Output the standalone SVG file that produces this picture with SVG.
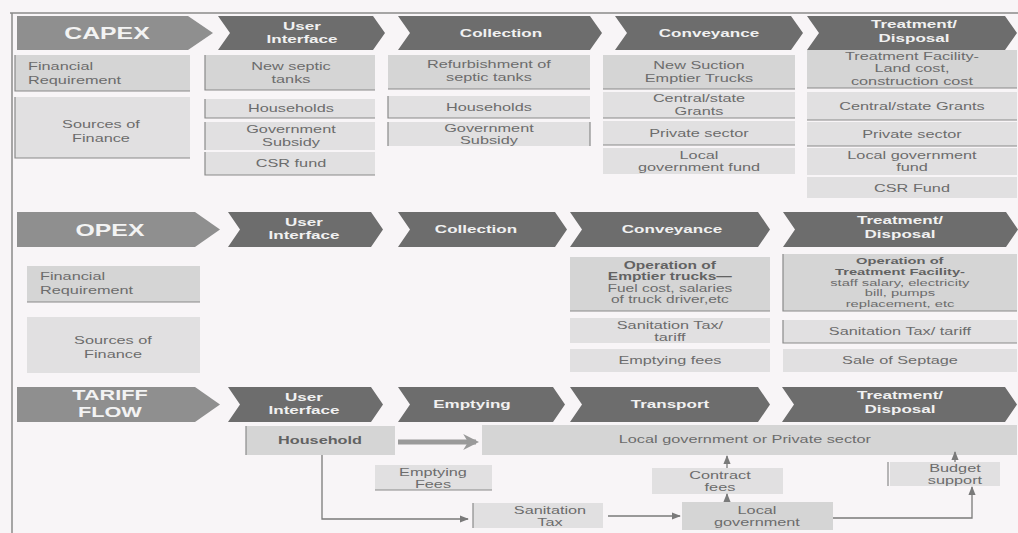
<svg xmlns="http://www.w3.org/2000/svg" width="1018" height="533" viewBox="0 0 1018 533">
<defs>
<style>
.t{font-family:"Liberation Sans",Arial,sans-serif;text-anchor:middle;transform-box:fill-box;transform-origin:center;transform:scaleX(1.55)}
.lf{text-anchor:start;transform-origin:left center}
.bx{font-size:10.5px;fill:#6c6c6c}
.sm{font-size:10px}
.xs{font-size:9.5px}
.bb{font-weight:700;fill:#626262}
.hd{font-size:11px;font-weight:700;fill:#f1f1f1}
.tt{font-size:16px;font-weight:700;fill:#f3f3f3}
.tm{font-size:14px;font-weight:700;fill:#f3f3f3}
.ch{fill:#6d6d6d}
.ti{fill:#8f8f8f}
.fr{fill:#d5d5d5}
.sb{fill:#e1e0e1}
.ln{fill:none;stroke:#8a8a8a;stroke-width:1.2}
.cn{fill:none;stroke:#7a7a7a;stroke-width:1.3}
</style>
<marker id="ah" viewBox="0 0 10 10" refX="9" refY="5" markerWidth="7" markerHeight="7" orient="auto"><path d="M0,1 L10,5 L0,9 z" fill="#7a7a7a"/></marker>
<marker id="ahb" viewBox="0 0 10 10" refX="8" refY="5" markerWidth="3.2" markerHeight="3.2" orient="auto"><path d="M0,0 L10,5 L0,10 L3,5 z" fill="#9a9a9a"/></marker>
</defs>
<rect width="1018" height="533" fill="#f8f5f7"/>
<path d="M10,13 H1018 M12,13 V533" fill="none" stroke="#8a8a8a" stroke-width="1.5"/>

<!-- CAPEX row -->
<g id="capex"><polygon class="ti" points="17,16 188,16 213,33 188,50 17,50"/><text class="t tt" x="107" y="39">CAPEX</text></g>
<g id="capex-ui"><polygon class="ch" points="218,16 373,16 385,33 373,50 218,50 230,33"/><text class="t hd" x="302" y="30">User</text><text class="t hd" x="302" y="43">Interface</text></g>
<g id="capex-col"><polygon class="ch" points="398,16 590,16 602,33 590,50 398,50 410,33"/><text class="t hd" x="501" y="37">Collection</text></g>
<g id="capex-conv"><polygon class="ch" points="615,16 791,16 803,33 791,50 615,50 627,33"/><text class="t hd" x="709" y="37">Conveyance</text></g>
<g id="capex-treat"><polygon class="ch" points="807,16 1005,16 1017,33 1005,50 807,50 819,33"/><text class="t hd" x="914" y="28">Treatment/</text><text class="t hd" x="914" y="42">Disposal</text></g>

<g id="capex-finreq"><rect class="fr" x="15" y="55" width="175" height="36"/><path class="ln" d="M15,55 V91 H190"/><text class="t bx lf" x="28" y="70">Financial</text><text class="t bx lf" x="28" y="84">Requirement</text></g>
<g id="capex-sources"><rect class="sb" x="15" y="97" width="175" height="61"/><path class="ln" d="M15,97 V158 H190"/><text class="t bx" x="101" y="128">Sources of</text><text class="t bx" x="101" y="142">Finance</text></g>

<g id="c-ui-1"><rect class="fr" x="205" y="55" width="170" height="35"/><path class="ln" d="M205,55 V90 H375"/><text class="t bx" x="291" y="70">New septic</text><text class="t bx" x="291" y="83">tanks</text></g>
<g id="c-ui-2"><rect class="sb" x="205" y="99" width="170" height="19"/><path class="ln" d="M205,99 V118 H375"/><text class="t bx" x="291" y="112">Households</text></g>
<g id="c-ui-3"><rect class="sb" x="205" y="122" width="170" height="28"/><path class="ln" d="M205,122 V150"/><text class="t bx" x="291" y="133">Government</text><text class="t bx" x="291" y="146">Subsidy</text></g>
<g id="c-ui-4"><rect class="sb" x="205" y="152" width="170" height="23"/><path class="ln" d="M205,152 V175 H375"/><text class="t bx" x="291" y="167">CSR fund</text></g>

<g id="c-col-1"><rect class="fr" x="388" y="55" width="202" height="34"/><path class="ln" d="M388,89 H590"/><text class="t bx" x="489" y="68">Refurbishment of</text><text class="t bx" x="489" y="81">septic tanks</text></g>
<g id="c-col-2"><rect class="sb" x="388" y="96" width="202" height="22"/><path class="ln" d="M388,96 V118 H590"/><text class="t bx" x="489" y="111">Households</text></g>
<g id="c-col-3"><rect class="sb" x="388" y="122" width="202" height="24"/><path class="ln" d="M388,122 V146 M590,122 V146"/><text class="t bx" x="489" y="132">Government</text><text class="t bx" x="489" y="144">Subsidy</text></g>

<g id="c-conv-1"><rect class="fr" x="603" y="55" width="192" height="34"/><path class="ln" d="M603,89 H795"/><text class="t bx" x="699" y="69">New Suction</text><text class="t bx" x="699" y="82">Emptier Trucks</text></g>
<g id="c-conv-2"><rect class="sb" x="603" y="92" width="192" height="26"/><path class="ln" d="M603,118 H795"/><text class="t bx" x="699" y="102">Central/state</text><text class="t bx" x="699" y="115">Grants</text></g>
<g id="c-conv-3"><rect class="sb" x="603" y="121" width="192" height="24"/><path class="ln" d="M603,145 H795"/><text class="t bx" x="699" y="137">Private sector</text></g>
<g id="c-conv-4"><rect class="sb" x="603" y="148" width="192" height="26"/><text class="t bx" x="699" y="159">Local</text><text class="t bx" x="699" y="171">government fund</text></g>

<g id="c-tr-1"><rect class="fr" x="807" y="50" width="210" height="38"/><path class="ln" d="M807,88 H1017"/><text class="t bx" x="912" y="60">Treatment Facility-</text><text class="t bx" x="912" y="72.5">Land cost,</text><text class="t bx" x="912" y="85">construction cost</text></g>
<g id="c-tr-2"><rect class="sb" x="807" y="92" width="210" height="28"/><path class="ln" d="M807,120 H1017"/><text class="t bx" x="912" y="110">Central/state Grants</text></g>
<g id="c-tr-3"><rect class="sb" x="807" y="122" width="210" height="24"/><path class="ln" d="M807,146 H1017"/><text class="t bx" x="912" y="138">Private sector</text></g>
<g id="c-tr-4"><rect class="sb" x="807" y="148" width="210" height="27"/><text class="t bx" x="912" y="159">Local government</text><text class="t bx" x="912" y="171">fund</text></g>
<g id="c-tr-5"><rect class="sb" x="807" y="177" width="210" height="21"/><text class="t bx" x="912" y="192">CSR Fund</text></g>

<!-- OPEX row -->
<g id="opex"><polygon class="ti" points="17,212 195,212 220,229.5 195,247 17,247"/><text class="t tt" x="110" y="236">OPEX</text></g>
<g id="opex-ui"><polygon class="ch" points="228,212 371,212 383,229.5 371,247 228,247 240,229.5"/><text class="t hd" x="304" y="226">User</text><text class="t hd" x="304" y="239">Interface</text></g>
<g id="opex-col"><polygon class="ch" points="398,212 555,212 567,229.5 555,247 398,247 410,229.5"/><text class="t hd" x="476" y="233">Collection</text></g>
<g id="opex-conv"><polygon class="ch" points="570,212 758,212 770,229.5 758,247 570,247 582,229.5"/><text class="t hd" x="672" y="233">Conveyance</text></g>
<g id="opex-treat"><polygon class="ch" points="783,212 1006,212 1018,229.5 1006,247 783,247 795,229.5"/><text class="t hd" x="900" y="224">Treatment/</text><text class="t hd" x="900" y="238">Disposal</text></g>

<g id="opex-finreq"><rect class="fr" x="27" y="266" width="173" height="36"/><path class="ln" d="M27,302 H200"/><text class="t bx lf" x="40" y="280">Financial</text><text class="t bx lf" x="40" y="294">Requirement</text></g>
<g id="opex-sources"><rect class="sb" x="27" y="317" width="173" height="56"/><text class="t bx" x="113" y="344">Sources of</text><text class="t bx" x="113" y="358">Finance</text></g>

<g id="o-conv-1"><rect class="fr" x="570" y="257" width="200" height="54"/><path class="ln" d="M570,311 H770"/><text class="t bx sm bb" x="670" y="269">Operation of</text><text class="t bx sm bb" x="670" y="280.5">Emptier trucks—</text><text class="t bx sm" x="670" y="292">Fuel cost, salaries</text><text class="t bx sm" x="670" y="303.5">of truck driver,etc</text></g>
<g id="o-conv-2"><rect class="sb" x="570" y="318" width="200" height="25"/><text class="t bx" x="670" y="329">Sanitation Tax/</text><text class="t bx" x="670" y="341">tariff</text></g>
<g id="o-conv-3"><rect class="sb" x="570" y="349" width="200" height="23"/><text class="t bx" x="670" y="364">Emptying fees</text></g>

<g id="o-tr-1"><rect class="fr" x="783" y="254" width="234" height="57"/><path class="ln" d="M783,254 V311 H1017"/><text class="t bx xs bb" x="900" y="264">Operation of</text><text class="t bx xs bb" x="900" y="274.8">Treatment Facility-</text><text class="t bx xs" x="900" y="285.6">staff salary, electricity</text><text class="t bx xs" x="900" y="296.4">bill, pumps</text><text class="t bx xs" x="900" y="307.2">replacement, etc</text></g>
<g id="o-tr-2"><rect class="sb" x="783" y="320" width="234" height="23"/><path class="ln" d="M783,320 V343 H1017"/><text class="t bx" x="900" y="335">Sanitation Tax/ tariff</text></g>
<g id="o-tr-3"><rect class="sb" x="783" y="349" width="234" height="23"/><text class="t bx" x="900" y="364">Sale of Septage</text></g>

<!-- TARIFF FLOW row -->
<g id="tariff"><polygon class="ti" points="17,387 195,387 220,404.5 195,422 17,422"/><text class="t tm" x="110" y="400">TARIFF</text><text class="t tm" x="110" y="417">FLOW</text></g>
<g id="tariff-ui"><polygon class="ch" points="228,387 371,387 383,404.5 371,422 228,422 240,404.5"/><text class="t hd" x="304" y="401">User</text><text class="t hd" x="304" y="414">Interface</text></g>
<g id="tariff-empty"><polygon class="ch" points="398,387 553,387 565,404.5 553,422 398,422 410,404.5"/><text class="t hd" x="472" y="408">Emptying</text></g>
<g id="tariff-transport"><polygon class="ch" points="570,387 758,387 770,404.5 758,422 570,422 582,404.5"/><text class="t hd" x="670" y="408">Transport</text></g>
<g id="tariff-treat"><polygon class="ch" points="782,387 1005,387 1017,404.5 1005,422 782,422 794,404.5"/><text class="t hd" x="900" y="399">Treatment/</text><text class="t hd" x="900" y="413">Disposal</text></g>

<g id="household"><rect class="fr" x="246" y="426" width="149" height="29"/><path class="ln" d="M246,426 V455"/><text class="t bx bb" x="320" y="444">Household</text></g>
<g id="lg-ps"><rect class="fr" x="482" y="425" width="535" height="30"/><text class="t bx" x="745" y="443">Local government or Private sector</text></g>
<g id="emptying-fees"><rect class="sb" x="375" y="465" width="117" height="25"/><path class="ln" d="M375,490 H492"/><text class="t bx" x="433" y="476">Emptying</text><text class="t bx" x="433" y="488">Fees</text></g>
<g id="contract-fees"><rect class="sb" x="652" y="468" width="131" height="26"/><text class="t bx" x="720" y="479">Contract</text><text class="t bx" x="720" y="491">fees</text></g>
<g id="sanitation-tax"><rect class="sb" x="473" y="503" width="130" height="25"/><path class="ln" d="M473,503 V528"/><text class="t bx" x="550" y="514">Sanitation</text><text class="t bx" x="550" y="526">Tax</text></g>
<g id="local-gov"><rect class="fr" x="682" y="502" width="151" height="28"/><text class="t bx" x="757" y="514">Local</text><text class="t bx" x="757" y="526">government</text></g>
<g id="budget-support"><rect class="sb" x="890" y="462" width="110" height="24"/><path class="ln" d="M888,462 V486"/><text class="t bx" x="955" y="472">Budget</text><text class="t bx" x="955" y="484">support</text></g>

<g id="connectors">
<path d="M398,442 H476" fill="none" stroke="#9a9a9a" stroke-width="5" marker-end="url(#ahb)"/>
<path class="cn" d="M322,455 V519 H468" marker-end="url(#ah)"/>
<path class="cn" d="M608,516 H680" marker-end="url(#ah)"/>
<path class="cn" d="M727,502 V494" marker-end="url(#ah)"/>
<path class="cn" d="M727,468 V456" marker-end="url(#ah)"/>
<path class="cn" d="M833,518 H972 V487" marker-end="url(#ah)"/>
<path class="cn" d="M955,462 V452" marker-end="url(#ah)"/>
</g>
</svg>
